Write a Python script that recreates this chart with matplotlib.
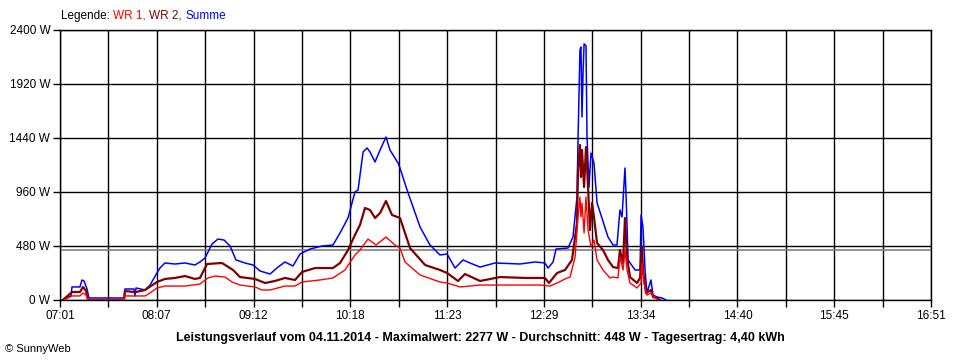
import matplotlib
matplotlib.use("Agg")
import matplotlib.pyplot as plt
from matplotlib.ticker import FixedLocator, NullFormatter

# minutes after 07:01 and power in W
t_sum = [1.4, 4.1, 7.5, 8.1, 13.5, 14.9, 16.3, 18.3, 19.6, 27.1, 43.4, 44.0, 50.1, 50.8,
         51.5, 57.6, 61.0, 65.7, 67.7, 71.1, 77.9, 84.7, 91.4, 94.8, 98.2, 103.0, 107.0,
         111.1, 115.2, 119.2, 125.3, 130.7, 135.5, 142.3, 147.7, 152.4, 157.8, 162.6,
         169.4, 177.5, 184.9, 189.7, 195.1, 199.8, 201.9, 205.3, 208.0, 210.0, 213.4,
         216.8, 220.8, 223.5, 229.0, 230.3, 235.1, 243.9, 250.6, 257.4, 262.2, 267.6,
         273.0, 277.7, 284.5, 294.7, 311.6, 321.8, 328.5, 330.6, 334.0, 336.0, 344.1,
         347.5, 350.2, 350.9, 352.2, 352.9, 353.6, 354.3, 355.0, 356.3, 357.0, 358.3,
         359.7, 361.7, 363.8, 367.1, 371.2, 374.6, 377.3, 379.3, 380.7, 382.7, 383.4,
         384.8, 389.5, 392.9, 393.6, 394.9, 396.3, 397.6, 400.3, 401.7, 404.4, 407.8, 410.5]
p_sum = [0, 18, 36, 116, 116, 178, 169, 98, 18, 18, 18, 98, 98, 36,
         107, 89, 133, 240, 284, 329, 320, 329, 311, 338, 373, 498, 542,
         533, 480, 356, 329, 311, 258, 231, 293, 338, 302, 409,
         453, 480, 489, 596, 729, 960, 978, 1316, 1351, 1316, 1227,
         1333, 1449, 1333, 1218, 1173, 978, 649, 489, 400, 409, 284,
         356, 329, 293, 329, 320, 338, 329, 284, 338, 453, 462,
         560, 916, 1422, 2222, 2249, 1627, 2018, 2277, 2260, 1449, 1004,
         1307, 1218, 862, 729, 560, 489, 489, 800, 738, 1173, 951,
         356, 267, 267, 756, 649, 267, 62, 178, 44, 27, 18, 0]

t_wr2 = [2.0, 8.1, 13.5, 15.6, 17.6, 19.0, 43.4, 44.0, 50.1, 51.5, 57.6, 65.7, 71.1, 77.9,
         84.7, 91.4, 94.8, 99.6, 109.7, 117.2, 121.9, 132.1, 138.9, 145.6, 152.4, 159.2,
         163.9, 172.7, 184.9, 189.7, 195.1, 199.8, 203.2, 206.6, 210.0, 213.4, 216.8,
         220.8, 224.9, 230.3, 237.1, 247.3, 257.4, 262.2, 269.6, 274.3, 284.5, 298.1,
         315.0, 328.5, 331.2, 336.7, 342.1, 346.8, 350.2, 350.9, 352.2, 352.9, 353.6,
         355.0, 356.3, 357.7, 359.0, 360.4, 361.7, 363.8, 367.8, 371.2, 374.6, 378.0,
         379.3, 381.4, 382.7, 384.1, 386.1, 390.9, 392.9, 394.2, 394.9, 396.9, 400.3,
         401.7, 404.4, 406.4]
p_wr2 = [0, 71, 71, 116, 80, 0, 0, 80, 71, 71, 89, 160, 187, 196,
         213, 187, 196, 320, 329, 267, 204, 187, 151, 169, 196, 178,
         249, 284, 284, 329, 444, 578, 667, 818, 800, 729, 773,
         880, 756, 729, 462, 311, 267, 240, 169, 231, 169, 204,
         196, 196, 151, 240, 267, 356, 684, 1156, 1378, 1093, 1333,
         1004, 1360, 1004, 622, 862, 738, 507, 444, 356, 293, 284,
         444, 329, 729, 382, 204, 151, 196, 471, 267, 62, 89,
         27, 18, 0]

t_wr1 = [2.7, 8.1, 13.5, 15.6, 17.6, 19.0, 43.4, 44.0, 50.1, 57.6, 61.0, 65.7, 71.1, 84.7,
         94.8, 100.3, 105.0, 111.8, 116.5, 121.9, 132.1, 136.8, 142.3, 152.4, 159.2,
         163.9, 176.1, 184.9, 193.1, 199.8, 203.2, 208.6, 214.1, 220.8, 226.9, 230.3,
         233.7, 243.9, 257.4, 262.2, 271.0, 284.5, 298.1, 325.2, 331.9, 336.7, 342.1,
         345.5, 348.9, 350.9, 352.2, 352.9, 353.6, 355.0, 356.3, 357.7, 359.7, 361.7,
         363.8, 367.8, 372.5, 374.6, 378.0, 379.3, 381.4, 382.7, 384.1, 386.1, 390.9,
         393.6, 394.2, 395.6, 397.6, 400.3, 403.1, 405.1]
p_wr1 = [0, 36, 36, 62, 44, 0, 0, 36, 36, 36, 62, 107, 124, 124,
         142, 196, 213, 204, 160, 133, 116, 89, 89, 124, 124,
         160, 178, 196, 267, 400, 444, 542, 489, 560, 489, 462,
         338, 222, 160, 151, 116, 133, 133, 133, 124, 151, 187,
         204, 382, 738, 916, 738, 862, 596, 916, 622, 471, 533,
         356, 267, 196, 204, 196, 382, 267, 444, 267, 151, 107,
         151, 329, 151, 44, 62, 18, 0]

avg_w = 448
x_labels = ["07:01", "08:07", "09:12", "10:18", "11:23", "12:29", "13:34",
            "14:40", "15:45", "16:51"]
y_ticks = [0, 480, 960, 1440, 1920, 2400]
total_min = 590

plt.rcParams['font.family'] = ['Liberation Sans', 'DejaVu Sans']
fig = plt.figure(figsize=(9.6, 3.6), dpi=100)
ax = fig.add_axes([60 / 960, 60 / 360, 871 / 960, 270 / 360])

ax.plot(t_sum, p_sum, color='#0000ff', lw=1.1, zorder=3)
ax.plot(t_wr2, p_wr2, color='#800000', lw=1.6, zorder=4)
ax.plot(t_wr1, p_wr1, color='#ff0000', lw=1.0, zorder=5)
ax.axhline(avg_w, color='#808080', lw=1.2, zorder=2)

ax.set_xlim(0, total_min)
ax.set_ylim(0, 2400)

step = total_min / 18
ax.xaxis.set_major_locator(FixedLocator([i * 2 * step for i in range(10)]))
ax.xaxis.set_minor_locator(FixedLocator([(2 * i + 1) * step for i in range(9)]))
ax.set_xticklabels(x_labels, fontsize=8.5)
ax.xaxis.set_minor_formatter(NullFormatter())
ax.set_yticks(y_ticks)
ax.set_yticklabels([f"{v} W" for v in y_ticks], fontsize=8.5)
ax.tick_params(axis='both', which='both', direction='out', length=5, width=1,
               color='black', pad=2)
ax.grid(True, which='both', color='black', lw=1, zorder=1)
for s in ax.spines.values():
    s.set_color('black')
    s.set_linewidth(1)

fig.text(480 / 960, 1 - 338 / 360,
         "Leistungsverlauf vom 04.11.2014 - Maximalwert: 2277 W - "
         "Durchschnitt: 448 W - Tagesertrag: 4,40 kWh",
         ha='center', va='center', fontsize=9, fontweight='bold')
fig.text(5 / 960, 1 - 349 / 360, "\u00a9 SunnyWeb", ha='left', va='center',
         fontsize=8)

# legend line above the plot
t = fig.text(61 / 960, 1 - 16 / 360, "Legende: ", ha='left', va='center',
             fontsize=8.5, color='black')
for word, col in [("WR 1, ", '#ff0000'), ("WR 2, ", '#800000'), ("Summe", '#0000ff')]:
    t = ax.annotate(word, xy=(1, 0), xycoords=t, ha='left', va='bottom',
                    fontsize=8.5, color=col, annotation_clip=False)

plt.savefig("out.png", dpi=100)
